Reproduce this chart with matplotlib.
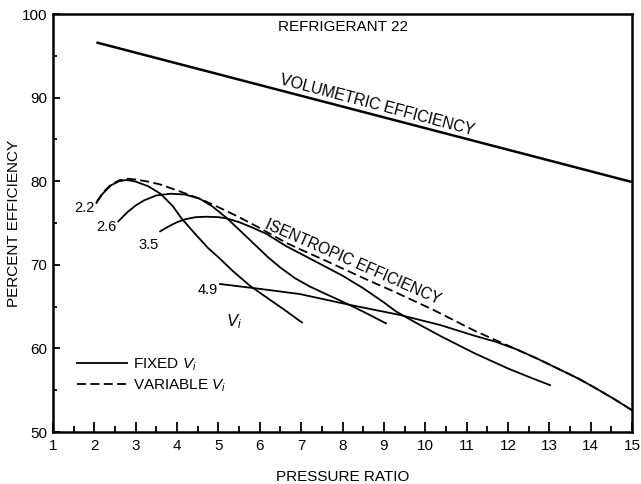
import matplotlib
matplotlib.use("Agg")
import matplotlib.pyplot as plt
from matplotlib.ticker import MultipleLocator

plt.rcParams['font.family'] = ['Liberation Sans', 'DejaVu Sans']
plt.rcParams['mathtext.fontset'] = 'custom'
plt.rcParams['mathtext.rm'] = 'Liberation Sans'
plt.rcParams['mathtext.it'] = 'Liberation Sans:italic'

# ---- data ----
vol_x = [2.05, 15.0]
vol_y = [96.6, 79.9]

var_x = [2.05, 2.2, 2.4, 2.6, 2.8, 3.0, 3.3, 3.6, 4.0, 4.55, 5.04, 5.5, 6.0, 6.65, 7.0,
         7.5, 7.94, 8.6, 9.2, 10.2, 11.2, 12.2, 12.7, 13.2, 13.7, 14.1, 14.6, 15.0]
var_y = [77.5, 78.6, 79.6, 80.1, 80.3, 80.2, 79.95, 79.6, 78.9, 77.9, 76.8, 75.7, 74.4, 72.6, 71.8,
         70.7, 69.7, 68.2, 66.9, 64.6, 62.1, 59.9, 58.8, 57.6, 56.4, 55.3, 53.85, 52.6]

f22_x = [2.05, 2.2, 2.4, 2.6, 2.78, 3.0, 3.3, 3.6, 3.9, 4.1, 4.4, 4.75, 5.0, 5.36, 5.76, 6.25, 6.6, 7.02]
f22_y = [77.4, 78.5, 79.5, 80.0, 80.15, 79.95, 79.4, 78.5, 77.0, 75.6, 73.9, 72.0, 70.9, 69.2, 67.5, 65.8, 64.6, 63.1]

f26_x = [2.58, 2.8, 3.0, 3.2, 3.5, 3.85, 4.2, 4.55, 4.85, 5.2, 5.5, 5.84, 6.2, 6.49, 6.85, 7.21,
         7.6, 8.0, 8.5, 9.05]
f26_y = [75.2, 76.3, 77.1, 77.7, 78.3, 78.5, 78.4, 77.9, 77.0, 75.6, 74.2, 72.6, 70.9, 69.7, 68.4, 67.4,
         66.5, 65.6, 64.4, 63.0]

f35_x = [3.59, 3.8, 4.0, 4.2, 4.45, 4.72, 5.0, 5.2, 5.5, 5.8, 6.16, 6.65, 7.0, 7.5, 8.0, 8.5, 9.0,
         9.3, 9.8, 10.4, 11.2, 12.0, 12.5, 13.02]
f35_y = [74.0, 74.6, 75.1, 75.45, 75.7, 75.75, 75.7, 75.55, 75.1, 74.5, 73.7, 72.2, 71.3, 70.0, 68.7,
         67.2, 65.5, 64.4, 63.0, 61.4, 59.4, 57.6, 56.6, 55.6]

f49_x = [5.04, 5.88, 6.97, 8.18, 9.39, 10.36, 11.2, 11.7, 12.2, 12.7, 13.2, 13.7, 14.1, 14.6, 15.0]
f49_y = [67.7, 67.2, 66.5, 65.2, 64.0, 62.8, 61.5, 60.8, 59.9, 58.8, 57.6, 56.4, 55.3, 53.85, 52.6]

vi_labels = ["2.2", "2.6", "3.5", "4.9"]
vi_label_x = [1.77, 2.30, 3.30, 4.75]
vi_label_y = [76.8, 74.5, 72.4, 67.0]

x_ticks = list(range(1, 16))
y_ticks = [50, 60, 70, 80, 90, 100]

# ---- figure ----
fig = plt.figure(figsize=(6.41, 4.84), dpi=100)
ax = fig.add_axes([53 / 641, 1 - 432 / 484, 579 / 641, 418 / 484])

lw = 1.3
dash = (5.0, 2.4)
ax.plot(vol_x, vol_y, color='black', lw=1.8, solid_capstyle='butt')
for xs, ys in [(f22_x, f22_y), (f26_x, f26_y), (f35_x, f35_y), (f49_x, f49_y)]:
    ax.plot(xs, ys, color='black', lw=lw, solid_joinstyle='round')
ax.plot(var_x, var_y, color='black', lw=lw, dashes=dash)

# legend
ax.plot([], [], color='black', lw=lw, label='FIXED $V_i$')
ax.plot([], [], color='black', lw=lw, dashes=dash, label='VARIABLE $V_i$')
handles, labels = ax.get_legend_handles_labels()
leg = ax.legend(handles[-2:], labels[-2:], loc='upper left', bbox_to_anchor=(0.041, 0.181),
                frameon=False, fontsize=11, handlelength=3.3, handletextpad=0.4,
                borderpad=0, borderaxespad=0, labelspacing=0.3)

ax.set_xlim(1, 15)
ax.set_ylim(50, 100)
ax.set_xticks(x_ticks)
ax.set_yticks(y_ticks)
ax.xaxis.set_minor_locator(MultipleLocator(0.5))
ax.yaxis.set_minor_locator(MultipleLocator(5))
ax.tick_params(axis='x', which='major', direction='in', length=7, width=1.3, labelsize=11, pad=5)
ax.tick_params(axis='x', which='minor', direction='in', length=4.5, width=1.3)
ax.tick_params(axis='y', which='major', direction='in', length=5, width=1.3, labelsize=11, pad=4)
ax.tick_params(axis='y', which='minor', direction='in', length=3, width=1.3)
for s in ax.spines.values():
    s.set_linewidth(1.8)

ax.set_xlabel('PRESSURE RATIO', fontsize=11, labelpad=12)
ax.set_ylabel('PERCENT EFFICIENCY', fontsize=11, labelpad=0.5)

ax.text(8.0, 98.4, 'REFRIGERANT 22', fontsize=11, ha='center', va='center')
ax.text(8.8, 88.6, 'VOLUMETRIC EFFICIENCY', fontsize=11.3, ha='center', va='baseline',
        rotation=-14.8, rotation_mode='anchor')
ax.text(8.2, 69.8, 'ISENTROPIC EFFICIENCY', fontsize=11.2, ha='center', va='baseline',
        rotation=-23.7, rotation_mode='anchor')
for lab, lx, ly in zip(vi_labels, vi_label_x, vi_label_y):
    ax.text(lx, ly, lab, fontsize=10.5, ha='center', va='center')
ax.text(5.38, 63.2, '$V_i$', fontsize=12, ha='center', va='center')

fig.savefig('out.png', dpi=100)
